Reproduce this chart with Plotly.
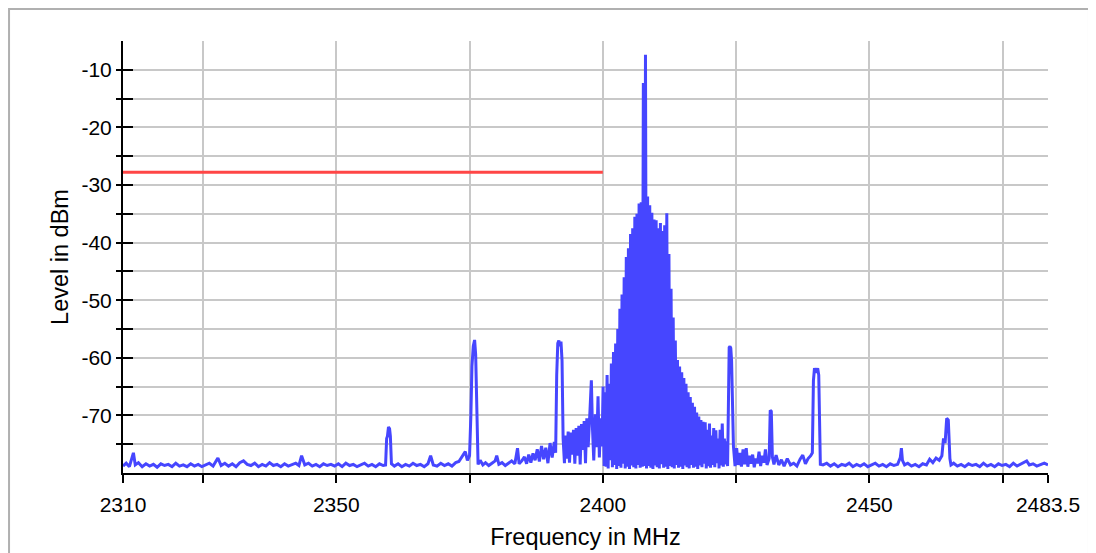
import plotly.graph_objects as go

# ---------------- data ----------------
# Segment A: noise floor 2310 - 2359 MHz
freq_a = [2310.0, 2310.6, 2311.2, 2311.6, 2311.95, 2312.3, 2312.9, 2313.6, 2314.3, 2315.0,
          2315.7, 2316.4, 2317.1, 2317.8, 2318.5, 2319.2, 2319.9, 2320.6, 2321.3, 2322.0,
          2322.7, 2323.4, 2324.1, 2324.8, 2325.5, 2326.2, 2326.9, 2327.8, 2328.4, 2329.1,
          2329.8, 2330.5, 2331.2, 2331.9, 2332.6, 2333.3, 2334.0, 2334.7, 2335.4, 2336.1,
          2336.8, 2337.5, 2338.2, 2338.9, 2339.6, 2340.3, 2341.0, 2341.7, 2342.4, 2343.0,
          2343.5, 2344.1, 2344.8, 2345.5, 2346.2, 2346.9, 2347.6, 2348.3, 2349.0, 2349.7,
          2350.4, 2351.1, 2351.8, 2352.5, 2353.2, 2353.9, 2354.6, 2355.3, 2356.0, 2356.7,
          2357.4, 2358.1, 2358.8]
level_a = [-78.8, -78.3, -78.9, -77.8, -76.5, -78.6, -78.2, -78.9, -78.4, -78.8,
           -78.5, -79.0, -78.4, -78.7, -78.5, -78.9, -78.3, -78.8, -78.6, -78.9,
           -78.4, -78.8, -78.5, -78.9, -78.6, -78.3, -78.8, -77.4, -78.7, -78.3,
           -78.8, -78.4, -78.9, -78.2, -77.9, -78.5, -78.7, -78.3, -78.9, -78.5,
           -78.8, -78.2, -78.7, -78.5, -78.9, -78.4, -78.8, -78.5, -78.3, -78.7,
           -77.0, -78.6, -78.3, -78.8, -78.5, -78.9, -78.4, -78.7, -78.5, -78.8,
           -78.4, -78.9, -78.3, -78.7, -78.5, -78.9, -78.6, -78.3, -78.8, -78.5,
           -78.9, -78.4, -78.7]

# Segment B: carrier near 2360 MHz and floor up to 2373 MHz
freq_b = [2359.25, 2359.45, 2359.6, 2359.8, 2360.0, 2360.15, 2360.35, 2360.9, 2361.6, 2362.3,
          2363.0, 2363.7, 2364.4, 2365.1, 2365.8, 2366.5, 2367.2, 2367.7, 2368.2, 2368.9,
          2369.6, 2370.3, 2371.0, 2371.7, 2372.4, 2373.0]
level_b = [-78.6, -74.0, -73.6, -72.0, -72.3, -73.6, -78.4, -78.8, -78.4, -78.9,
           -78.5, -78.8, -78.3, -78.7, -78.5, -78.9, -78.4, -77.0, -78.6, -78.8,
           -78.3, -78.7, -78.4, -78.8, -78.2, -78.0]

# Segment C: carriers at 2376 and 2392 MHz
freq_c = [2373.6, 2374.2, 2374.6, 2375.0, 2375.25, 2375.45, 2375.7, 2375.95, 2376.15, 2376.35,
          2376.6, 2377.0, 2377.5, 2378.0, 2378.6, 2379.2, 2379.8, 2380.1, 2380.5, 2381.1,
          2381.7, 2382.3, 2382.9, 2383.5, 2384.0, 2384.3, 2384.8, 2385.3, 2385.7, 2386.1,
          2386.5, 2386.9, 2387.3, 2387.7, 2388.1, 2388.5, 2388.9, 2389.3, 2389.7, 2390.1,
          2390.5, 2390.9, 2391.15, 2391.35, 2391.55, 2391.75, 2391.95, 2392.15, 2392.35, 2392.55,
          2392.8]
level_c = [-77.2, -76.3, -77.8, -77.0, -70.0, -61.5, -58.0, -56.9, -59.5, -70.0,
           -78.5, -77.8, -78.6, -78.2, -78.7, -78.3, -77.9, -77.0, -78.5, -78.2,
           -78.7, -78.3, -77.9, -78.4, -75.7, -78.4, -77.9, -77.2, -78.4, -76.8,
           -78.2, -76.6, -77.8, -75.9, -78.0, -75.3, -77.6, -75.6, -78.3, -74.8,
           -77.3, -74.6, -76.5, -63.0, -57.5, -57.0, -58.0, -57.2, -60.5, -74.0,
           -78.3]

# Segment D: rising noise 2393 - 2400 MHz
freq_d = [2393.0, 2393.25, 2393.5, 2393.75, 2394.0, 2394.25, 2394.5, 2394.75, 2395.0, 2395.25,
          2395.5, 2395.75, 2396.0, 2396.25, 2396.5, 2396.75, 2397.0, 2397.25, 2397.55, 2397.85,
          2398.05, 2398.3, 2398.6, 2398.85, 2399.1, 2399.35, 2399.6, 2399.85, 2400.05, 2400.25]
level_d = [-73.5, -77.5, -72.8, -78.2, -73.0, -76.8, -72.5, -78.4, -72.2, -77.0,
           -71.8, -78.5, -71.5, -76.0, -71.0, -78.3, -70.5, -75.5, -70.0, -63.9,
           -72.0, -77.8, -69.8, -75.5, -66.7, -77.3, -70.5, -75.4, -65.0, -78.8]

# Segment E: main emission 2400 - 2423.5 MHz (sweep peaks and troughs)
comb_peak_freq = [2400.4, 2400.8, 2401.2, 2401.6, 2402.0, 2402.4, 2402.8, 2403.2, 2403.6, 2404.0,
                  2404.4, 2404.8, 2405.2, 2405.6, 2406.0, 2406.4, 2406.8, 2407.2, 2407.6, 2408.0,
                  2408.4, 2408.8, 2409.2, 2409.6, 2410.0, 2410.4, 2410.8, 2411.2, 2411.6, 2412.0,
                  2412.4, 2412.8, 2413.2, 2413.6, 2414.0, 2414.4, 2414.8, 2415.2, 2415.6, 2416.0,
                  2416.4, 2416.8, 2417.2, 2417.6, 2418.0, 2418.4, 2418.8, 2419.2, 2419.6, 2420.0,
                  2420.4, 2420.8, 2421.2, 2421.6, 2422.0, 2422.4, 2422.8, 2423.2]
comb_peak_level = [-66.0, -63.0, -64.5, -61.0, -59.0, -57.5, -55.0, -51.5, -49.0, -46.0,
                   -42.5, -41.0, -38.5, -37.5, -35.5, -35.0, -33.2, -33.0, -12.3, -7.4,
                   -32.0, -33.5, -34.8, -36.0, -36.1, -37.5, -36.6, -38.0, -37.0, -34.9,
                   -42.0, -48.0, -53.0, -57.0, -60.4, -61.5, -62.5, -63.5, -64.5, -66.0,
                   -66.8, -67.8, -68.5, -69.5, -70.2, -70.8, -71.1, -71.2, -72.5, -71.4,
                   -73.5, -72.2, -72.6, -74.0, -72.5, -71.4, -74.0, -74.5]
comb_trough_freq = [2400.6, 2401.0, 2401.4, 2401.8, 2402.2, 2402.6, 2403.0, 2403.4, 2403.8, 2404.2,
                    2404.6, 2405.0, 2405.4, 2405.8, 2406.2, 2406.6, 2407.0, 2407.4, 2407.8, 2408.2,
                    2408.6, 2409.0, 2409.4, 2409.8, 2410.2, 2410.6, 2411.0, 2411.4, 2411.8, 2412.2,
                    2412.6, 2413.0, 2413.4, 2413.8, 2414.2, 2414.6, 2415.0, 2415.4, 2415.8, 2416.2,
                    2416.6, 2417.0, 2417.4, 2417.8, 2418.2, 2418.6, 2419.0, 2419.4, 2419.8, 2420.2,
                    2420.6, 2421.0, 2421.4, 2421.8, 2422.2, 2422.6, 2423.0, 2423.4]
comb_trough_level = [-78.9, -79.2, -77.8, -79.0, -78.6, -79.3, -78.8, -79.1, -78.4, -79.2,
                     -78.9, -79.3, -78.7, -79.0, -79.2, -78.6, -79.1, -78.9, -78.8, -79.2,
                     -78.8, -79.1, -79.3, -78.7, -79.0, -79.2, -78.5, -79.1, -78.9, -79.3,
                     -78.8, -79.0, -79.2, -78.6, -79.1, -78.9, -79.3, -78.7, -79.0, -79.2,
                     -78.6, -79.1, -78.9, -79.3, -78.7, -79.0, -78.4, -79.2, -78.8, -79.1,
                     -78.6, -79.0, -78.3, -79.2, -78.7, -78.9, -78.5, -78.8]

# Segment F: carriers at 2424, 2431.5 and 2440 MHz
freq_f = [2423.5, 2423.7, 2423.85, 2424.0, 2424.15, 2424.3, 2424.5, 2424.8, 2425.1, 2425.4,
          2425.7, 2426.0, 2426.3, 2426.6, 2426.9, 2427.2, 2427.5, 2427.8, 2428.1, 2428.4,
          2428.7, 2429.0, 2429.3, 2429.6, 2429.9, 2430.2, 2430.5, 2430.8, 2431.2, 2431.4,
          2431.6, 2431.8, 2432.1, 2432.5, 2433.0, 2433.5, 2434.0, 2434.6, 2435.2, 2435.8,
          2436.4, 2437.0, 2437.5, 2438.0, 2438.5, 2439.0, 2439.3, 2439.5, 2439.7, 2440.0,
          2440.3, 2440.5, 2440.65, 2440.8, 2441.3]
level_f = [-72.0, -58.2, -58.0, -58.3, -60.5, -66.0, -75.4, -78.8, -75.7, -78.6,
           -76.5, -78.9, -75.9, -78.5, -75.7, -78.9, -77.0, -78.4, -76.8, -79.0,
           -77.5, -78.3, -76.3, -78.8, -77.0, -78.2, -75.9, -78.6, -77.5, -69.1,
           -69.3, -77.2, -78.5, -76.9, -78.6, -77.7, -78.8, -77.5, -78.6, -78.3,
           -78.8, -77.6, -76.9, -78.4, -77.5, -77.0, -76.5, -64.0, -61.8, -62.6,
           -61.8, -63.0, -72.0, -78.5, -78.6]

# Segment G: floor 2442 - 2483.5 MHz with small carriers
freq_g = [2442.0, 2442.7, 2443.4, 2444.1, 2444.8, 2445.5, 2446.2, 2446.9, 2447.6, 2448.3,
          2449.0, 2449.7, 2450.4, 2451.1, 2451.8, 2452.5, 2453.2, 2453.9, 2454.6, 2455.3,
          2455.8, 2456.0, 2456.2, 2456.6, 2457.2, 2457.9, 2458.6, 2459.3, 2460.0, 2460.7,
          2461.3, 2461.9, 2462.5, 2463.1, 2463.6, 2463.9, 2464.2, 2464.5, 2464.8, 2465.1,
          2465.3, 2465.8, 2466.5, 2467.2, 2467.9, 2468.6, 2469.3, 2470.0, 2470.7, 2471.4,
          2472.1, 2472.8, 2473.5, 2474.2, 2474.9, 2475.6, 2476.3, 2477.0, 2477.7, 2478.4,
          2479.1, 2479.5, 2480.0, 2480.7, 2481.4, 2482.1, 2482.8, 2483.5]
level_g = [-78.3, -78.8, -78.4, -78.9, -78.5, -78.7, -78.3, -78.9, -78.5, -78.8,
           -78.4, -78.9, -78.6, -78.3, -78.8, -78.5, -78.9, -78.4, -78.7, -78.5,
           -77.3, -75.7, -77.8, -78.6, -78.3, -78.8, -78.5, -78.9, -78.4, -78.6,
           -77.6, -78.2, -77.4, -77.8, -77.0, -74.0, -74.8, -70.5, -70.8, -77.5,
           -78.6, -78.3, -78.8, -78.5, -78.9, -78.4, -78.7, -78.5, -78.9, -78.3,
           -78.8, -78.5, -78.9, -78.4, -78.7, -78.5, -78.9, -78.3, -78.8, -78.5,
           -78.2, -77.9, -78.6, -78.4, -78.8, -78.5, -78.3, -78.6]

# Limit line
limit_freq = [2310, 2400]
limit_level = [-27.8, -27.8]

# Axis ticks
x_tick_vals = [2310, 2325, 2350, 2375, 2400, 2425, 2450, 2475, 2483.5]
x_tick_text = ["2310", "", "2350", "", "2400", "", "2450", "", "2483.5"]
y_tick_vals = [-75, -70, -65, -60, -55, -50, -45, -40, -35, -30, -25, -20, -15, -10]
y_tick_text = ["", "-70", "", "-60", "", "-50", "", "-40", "", "-30", "", "-20", "", "-10"]

# ---------------- assemble ----------------
pairs = [(freq_a, level_a), (freq_b, level_b), (freq_c, level_c), (freq_d, level_d),
         (comb_peak_freq, comb_peak_level), (comb_trough_freq, comb_trough_level),
         (freq_f, level_f), (freq_g, level_g)]
for fx, lv in pairs:
    assert len(fx) == len(lv), (len(fx), len(lv))

comb_freq, comb_level = [], []
for pf, pl, tf, tl in zip(comb_peak_freq, comb_peak_level, comb_trough_freq, comb_trough_level):
    comb_freq += [pf, tf]
    comb_level += [pl, tl]

freq = freq_a + freq_b + freq_c + freq_d + comb_freq + freq_f + freq_g
level = level_a + level_b + level_c + level_d + comb_level + level_f + level_g

fig = go.Figure()
fig.add_trace(go.Scatter(x=freq, y=level, mode="lines",
                         line=dict(color="#4646ff", width=3), hoverinfo="skip"))
fig.add_trace(go.Scatter(x=limit_freq, y=limit_level, mode="lines", yaxis="y2",
                         line=dict(color="#ff4646", width=3), hoverinfo="skip"))

grid_col = "#c8c8c8"
fig.update_layout(
    width=1088, height=545,
    margin=dict(l=115, r=48, t=33, b=80),
    paper_bgcolor="white", plot_bgcolor="white",
    showlegend=False,
    font=dict(family="Liberation Sans, Arial, sans-serif", size=21, color="black"),
    xaxis=dict(range=[2310, 2483.5], tickmode="array", tickvals=x_tick_vals, ticktext=x_tick_text,
               ticks="outside", ticklen=8, tickwidth=2, tickcolor="black", ticklabelstandoff=4,
               showline=True, linecolor="black", linewidth=2, automargin=False,
               showgrid=True, gridcolor=grid_col, gridwidth=2, zeroline=False,
               title=dict(text="Frequency in MHz", font=dict(size=23.5), standoff=13)),
    yaxis=dict(range=[-80, -5], tickmode="array", tickvals=y_tick_vals, ticktext=y_tick_text,
               ticks="outside", ticklen=5, tickwidth=2, tickcolor="black",
               showline=True, linecolor="black", linewidth=2, automargin=False,
               showgrid=True, gridcolor=grid_col, gridwidth=2, zeroline=False,
               title=dict(text="Level in dBm", font=dict(size=23.5), standoff=6)),
    yaxis2=dict(overlaying="y", side="left", range=[-80, -5], tickmode="array",
                tickvals=y_tick_vals, ticks="inside", ticklen=10, tickwidth=2, tickcolor="black",
                showticklabels=False, showgrid=False, zeroline=False, showline=False,
                automargin=False),
    shapes=[dict(type="rect", xref="paper", yref="paper",
                 x0=-0.1232, x1=1.0443, y0=-0.4, y1=1.074,
                 line=dict(color="#b0b0b0", width=2), fillcolor="rgba(0,0,0,0)", layer="below")],
)

fig.write_html("out.html")
